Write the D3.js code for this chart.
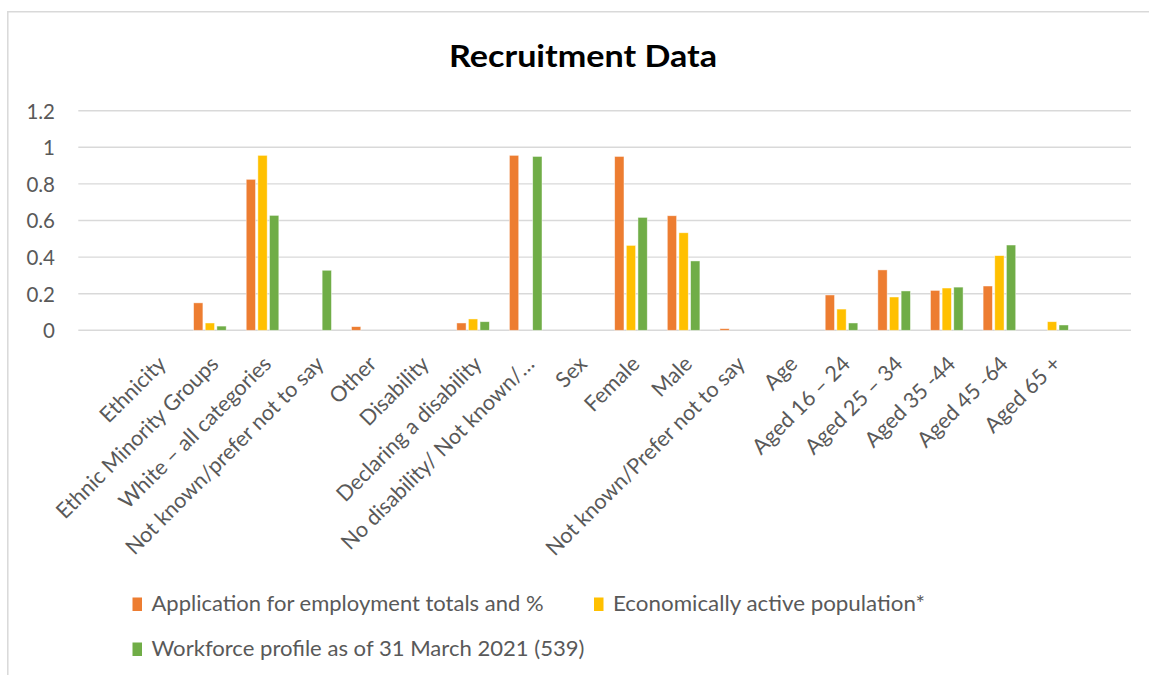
<!DOCTYPE html>
<html>
<head>
<meta charset="utf-8">
<script src="https://cdn.jsdelivr.net/npm/d3@7"></script>
<style>
  html, body { margin: 0; padding: 0; background: #fff; }
  svg { display: block; font-family: Lato, "Open Sans", sans-serif; }
</style>
</head>
<body>
<svg id="chart" width="1149" height="675"></svg>
<script>
// Category labels along the x axis
const categories = [
  "Ethnicity", "Ethnic Minority Groups", "White – all categories",
  "Not known/prefer not to say", "Other", "Disability",
  "Declaring a disability", "No disability/ Not known/…", "Sex",
  "Female", "Male", "Not known/Prefer not to say", "Age",
  "Aged 16 – 24", "Aged 25 – 34", "Aged 35 -44", "Aged 45 -64", "Aged 65 +"
];

// Series names and values (proportions); null = no bar
const seriesNames = [
  "Application for employment totals and %",
  "Economically active population*",
  "Workforce profile as of 31 March 2021 (539)"
];
const applications = [null, 0.15, 0.825, null, 0.02, null, 0.04, 0.956, null, 0.95, 0.626, 0.009, null, 0.193, 0.33, 0.218, 0.242, null];
const economicallyActive = [null, 0.04, 0.956, null, null, null, 0.062, null, null, 0.464, 0.533, null, null, 0.116, 0.182, 0.231, 0.408, 0.047];
const workforce = [null, 0.023, 0.628, 0.328, null, null, 0.047, 0.95, null, 0.617, 0.379, null, null, 0.04, 0.215, 0.236, 0.466, 0.029];

const yTicks = [0, 0.2, 0.4, 0.6, 0.8, 1, 1.2];
const yTickLabels = ["0", "0.2", "0.4", "0.6", "0.8", "1", "1.2"];
const colors = ["#ED7D31", "#FFC000", "#70AD47"];

const seriesValues = [applications, economicallyActive, workforce];
const rows = categories.map((c, i) => ({
  category: c,
  values: seriesNames.map((s, k) => ({ series: s, k, value: seriesValues[k][i] }))
}));

const svg = d3.select("#chart");

// Outer chart frame
svg.append("path")
  .attr("d", "M7.8,700 V11.7 H1160")
  .attr("fill", "none")
  .attr("stroke", "#d9d9d9")
  .attr("stroke-width", 1.5);

const plot = { left: 78.3, right: 1131, top: 110.7, bottom: 330.3 };

const x = d3.scaleBand()
  .domain(categories)
  .range([plot.left, plot.right])
  .paddingInner(0)
  .paddingOuter(1);

const groupWidth = 32.6;
const xInner = d3.scaleBand()
  .domain(seriesNames)
  .range([-groupWidth / 2, groupWidth / 2])
  .paddingInner(0.2)
  .paddingOuter(0);

const y = d3.scaleLinear().domain([0, 1.2]).range([plot.bottom, plot.top]);

// Title
svg.append("text")
  .attr("x", 583)
  .attr("y", 67.3)
  .attr("text-anchor", "middle")
  .attr("font-weight", 700)
  .attr("font-size", 31)
  .attr("fill", "#000")
  .attr("textLength", 268)
  .attr("lengthAdjust", "spacingAndGlyphs")
  .text("Recruitment Data");

// Horizontal gridlines
svg.append("g")
  .selectAll("line")
  .data(yTicks)
  .join("line")
  .attr("x1", plot.left)
  .attr("x2", plot.right)
  .attr("y1", d => y(d))
  .attr("y2", d => y(d))
  .attr("stroke", "#d9d9d9")
  .attr("stroke-width", 1.4);

// Y axis labels
const yAxis = d3.axisLeft(y)
  .tickValues(yTicks)
  .tickFormat((d, i) => yTickLabels[i])
  .tickSize(0)
  .tickPadding(0);
const gy = svg.append("g")
  .attr("transform", `translate(55,0)`)
  .call(yAxis);
gy.select(".domain").remove();
gy.selectAll("text")
  .attr("font-family", "Lato, sans-serif")
  .attr("font-size", 20.5)
  .attr("fill", "#595959")
  .attr("dy", "0.36em");

// Bars
const groups = svg.append("g")
  .selectAll("g")
  .data(rows)
  .join("g")
  .attr("transform", d => `translate(${x(d.category) + x.bandwidth() / 2},0)`);

groups.selectAll("rect")
  .data(d => d.values.filter(v => v.value != null))
  .join("rect")
  .attr("x", d => xInner(d.series))
  .attr("width", xInner.bandwidth())
  .attr("y", d => y(d.value))
  .attr("height", d => y(0) - y(d.value))
  .attr("fill", d => colors[d.k])
  .attr("stroke", "#fff")
  .attr("stroke-opacity", 0.6)
  .attr("stroke-width", 0.75);

// X axis labels, rotated
const xAxis = d3.axisBottom(x).tickSize(0).tickPadding(0);
const gx = svg.append("g")
  .attr("transform", `translate(0,${plot.bottom})`)
  .call(xAxis);
gx.select(".domain").remove();
gx.selectAll(".tick text")
  .attr("font-family", "Lato, sans-serif")
  .attr("font-size", 21.5)
  .attr("fill", "#595959")
  .attr("text-anchor", "end")
  .attr("y", 0)
  .attr("dy", 0)
  .attr("transform", "translate(10,35) rotate(-45)");

// Legend
const legendItems = [
  { name: seriesNames[0], color: colors[0], x: 132.5, y: 611, len: 392 },
  { name: seriesNames[1], color: colors[1], x: 594, y: 611, len: 312 },
  { name: seriesNames[2], color: colors[2], x: 132.5, y: 656, len: 433 }
];
const legend = svg.append("g")
  .selectAll("g")
  .data(legendItems)
  .join("g")
  .attr("transform", d => `translate(${d.x},${d.y})`);
legend.append("rect")
  .attr("x", 0)
  .attr("y", -13.5)
  .attr("width", 9.5)
  .attr("height", 13.5)
  .attr("fill", d => d.color);
legend.append("text")
  .attr("x", 19)
  .attr("y", 0)
  .attr("font-size", 20.5)
  .attr("fill", "#595959")
  .attr("textLength", d => d.len)
  .attr("lengthAdjust", "spacingAndGlyphs")
  .text(d => d.name);
</script>
</body>
</html>
